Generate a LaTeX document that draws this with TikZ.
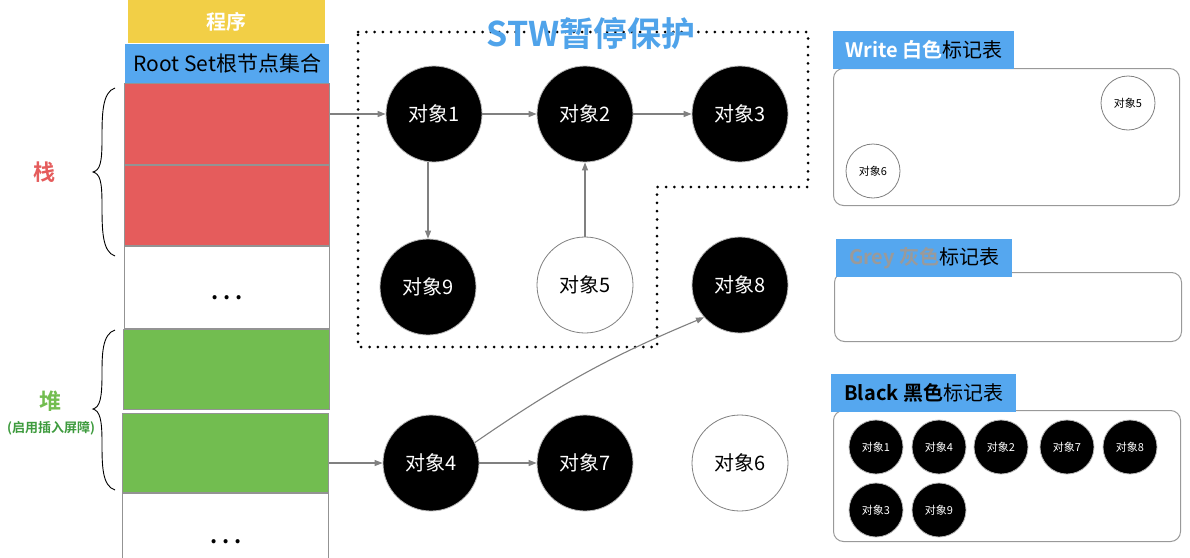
\documentclass[tikz,border=0pt]{standalone}
\usepackage{fontspec}
\setmainfont{Noto Sans CJK SC}[BoldFont={Noto Sans CJK SC Bold}]
\usetikzlibrary{arrows.meta}
\definecolor{progyellow}{HTML}{F2CF46}
\definecolor{rootblue}{HTML}{55A7EF}
\definecolor{stackred}{HTML}{E55C5C}
\definecolor{heapgreen}{HTML}{72BD50}
\definecolor{darkgreen}{HTML}{3E9B3E}
\definecolor{titleblue}{HTML}{4FA3EA}
\definecolor{edgegray}{HTML}{808080}
\definecolor{greytext}{HTML}{9A9A9A}
\tikzset{
  fs/.style={font=\fontsize{#1}{#1}\selectfont},
  cell/.style={draw=gray!85, line width=1.2pt, anchor=north west, inner sep=0pt},
  obj/.style={circle, minimum size=96pt, inner sep=0pt, fs=20},
  blackobj/.style={obj, fill=black, draw=gray!55, line width=0.8pt, text=white},
  whiteobj/.style={obj, fill=white, draw=edgegray, line width=0.8pt, text=black},
  mini/.style={circle, minimum size=54pt, inner sep=0pt, fs=11},
  miniblack/.style={mini, fill=black, draw=gray!55, line width=0.8pt, text=white},
  miniwhite/.style={mini, fill=white, draw=edgegray, line width=0.8pt, text=black},
  ref/.style={draw=edgegray, line width=1.1pt, -{Triangle[length=8pt,width=6pt]}},
  tablebox/.style={draw=gray!80, line width=1pt, rounded corners=10pt, anchor=north west, inner sep=0pt},
  tablelabel/.style={fill=rootblue, anchor=north west, inner sep=0pt, fs=20},
  brace/.style={draw=black, line width=0.9pt},
  guard/.style={draw=black, line width=3pt, line cap=round, dash pattern=on 0pt off 8.3pt},
  ellipsis/.style={fs=22}
}
\newcommand{\gapdots}{\textbf{.\hspace{5pt}.\hspace{5pt}.}}
\begin{document}
\begin{tikzpicture}[x=1pt,y=-1pt]
\useasboundingbox (0,0) rectangle (1190,557);
\fill[white] (0,0) rectangle (1190,557);

% program and root set header
\node[fill=progyellow, anchor=north west, minimum width=197pt, minimum height=43pt, inner sep=0pt, text=white, fs=20] (prog) at (128,0) {\textbf{程序}};
\node[fill=rootblue, anchor=north west, minimum width=204pt, minimum height=39pt, inner sep=0pt, fs=21] (root) at (125,44) {Root Set根节点集合};

% stack cells
\node[cell, fill=stackred, minimum width=205pt, minimum height=81pt] (s1) at (124,83) {};
\node[cell, fill=stackred, minimum width=205pt, minimum height=80pt] (s2) at (124,165) {};
\node[cell, fill=white, minimum width=205pt, minimum height=82pt] (s3) at (124,246) {};
\node[ellipsis] (dots1) at (227,298) {\gapdots};
% heap cells
\node[cell, fill=heapgreen, minimum width=206pt, minimum height=80pt] (h1) at (123,329) {};
\node[cell, fill=heapgreen, minimum width=206pt, minimum height=79pt] (h2) at (122,413) {};
\node[cell, fill=white, minimum width=206pt, minimum height=70pt] (h3) at (122,493) {};
\node[ellipsis] (dots2) at (226,542) {\gapdots};

% braces and region labels
\draw[brace] (115,88) .. controls (102,92) and (102,115) .. (102,140)
  .. controls (102,163) and (100,170) .. (93,172)
  .. controls (100,174) and (102,181) .. (102,204)
  .. controls (102,229) and (102,252) .. (115,256);
\node[text=stackred, fs=22] (stk) at (44,172) {\textbf{栈}};
\draw[brace] (115,330) .. controls (102,334) and (102,355) .. (102,375)
  .. controls (102,398) and (100,407) .. (93,409)
  .. controls (100,411) and (102,420) .. (102,442)
  .. controls (102,465) and (102,486) .. (115,490);
\node[text=heapgreen, fs=22] (hp) at (50,401) {\textbf{堆}};
\node[text=darkgreen, fs=13] (hpnote) at (51,428) {\textbf{(启用插入屏障)}};

% STW protected region
\draw[guard] (358,32) -- (808,32) -- (808,187) -- (657,187) -- (657,347) -- (358,347) -- cycle;
\node[text=titleblue, fs=34] (stw) at (591,33) {\textbf{STW暂停保护}};

% objects
\node[blackobj] (o1) at (434,114) {对象1};
\node[blackobj] (o2) at (585,114) {对象2};
\node[blackobj] (o3) at (740,114) {对象3};
\node[blackobj] (o9) at (428,287) {对象9};
\node[whiteobj] (o5) at (585,285) {对象5};
\node[blackobj] (o8) at (740,285) {对象8};
\node[blackobj] (o4) at (431,463) {对象4};
\node[blackobj] (o7) at (585,463) {对象7};
\node[whiteobj] (o6) at (740,463) {对象6};

% references
\draw[ref] (s1.east |- o1) -- (o1);
\draw[ref] (o1) -- (o2);
\draw[ref] (o2) -- (o3);
\draw[ref] (o9 |- o1.south) -- (o9);
\draw[ref] (o5) -- (o2);
\draw[ref] (h2.east |- o4) -- (o4);
\draw[ref] (o4) -- (o7);
\draw[ref] (o4.25) to[bend left=6] (o8.-138);

% white mark table
\node[tablebox, minimum width=346pt, minimum height=137pt] (wtab) at (833,68) {};
\node[tablelabel, minimum width=181pt, minimum height=38pt] (wlab) at (833,31) {\textbf{\color{white}Write 白色}标记表};
\node[miniwhite] (w5) at (1128,103) {对象5};
\node[miniwhite] (w6) at (873,171) {对象6};

% grey mark table
\node[tablebox, minimum width=347pt, minimum height=69pt] (gtab) at (834,272) {};
\node[tablelabel, minimum width=176pt, minimum height=38pt] (glab) at (836,239) {\textbf{\color{greytext}Grey 灰色}标记表};

% black mark table
\node[tablebox, minimum width=347pt, minimum height=131pt] (btab) at (833,410) {};
\node[tablelabel, minimum width=185pt, minimum height=38pt] (blab) at (831,374) {\textbf{Black 黑色}标记表};
\node[miniblack] (b1) at (876,447) {对象1};
\node[miniblack] (b4) at (939,447) {对象4};
\node[miniblack] (b2) at (1001,447) {对象2};
\node[miniblack] (b7) at (1067,447) {对象7};
\node[miniblack] (b8) at (1130,447) {对象8};
\node[miniblack] (b3) at (876,510) {对象3};
\node[miniblack] (b9) at (939,510) {对象9};
\end{tikzpicture}
\end{document}
